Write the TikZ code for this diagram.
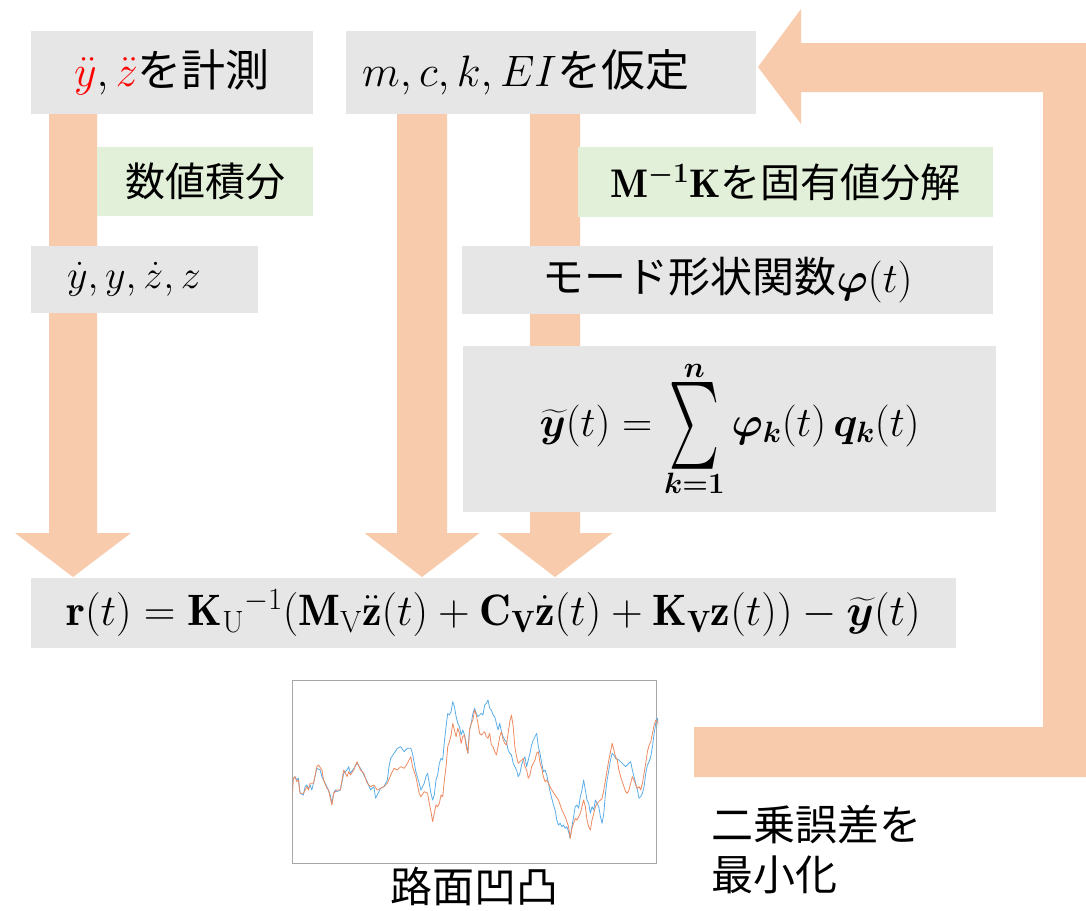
\RequirePackage{fix-cm}
\documentclass[tikz,border=0pt]{standalone}
\usepackage{amsmath,bm,graphicx}
\usepackage{fontspec}
\newfontfamily\jp{Noto Sans CJK JP}
\definecolor{arrowc}{HTML}{F8CBAD}
\definecolor{boxgray}{HTML}{E6E6E6}
\definecolor{boxgreen}{HTML}{E2F0D9}
\definecolor{plotblue}{HTML}{5AADE8}
\definecolor{plotorange}{HTML}{EE8A60}
\definecolor{framegray}{HTML}{A6A6A6}
\newcommand{\blockdown}[3]{% #1 shaft left, #2 shaft right, #3 half head
  \fill[arrowc] (#1,114) -- (#2,114) -- (#2,533) -- ({(#1+#2)/2+#3},533) -- ({(#1+#2)/2},577) -- ({(#1+#2)/2-#3},533) -- (#1,533) -- cycle;}
\newcommand{\tallsum}{\mathop{\vcenter{\hbox{\resizebox{50pt}{80pt}{$\textstyle\sum$}}}}}
\tikzset{
  graybox/.style={fill=boxgray, inner sep=0pt, text=black},
  greenbox/.style={fill=boxgreen, inner sep=0pt, text=black},
  big/.style={font=\jp\fontsize{44}{52}\selectfont},
  mid/.style={font=\jp\fontsize{40}{48}\selectfont},
  mida/.style={font=\jp\fontsize{42}{50}\selectfont},
  curve/.style={line width=0.8pt, line join=round},
}
\begin{document}
\begin{tikzpicture}[x=1pt,y=-1pt]
\useasboundingbox (0,0) rectangle (1086,910);
% block arrows (behind the boxes)
\blockdown{49}{97}{58}
\blockdown{397}{447}{57.5}
\blockdown{530}{580}{57.5}
\fill[arrowc] (694,727) -- (1043,727) -- (1043,92) -- (801,92) -- (801,124) -- (758,67) -- (801,9) -- (801,43) -- (1086,43) -- (1086,777) -- (694,777) -- cycle;
% boxes
\node[graybox, big, minimum width=282, minimum height=83] (meas) at (172,72.5)
  {${\color{red}\ddot{y}},{\color{red}\ddot{z}}$を計測};
\node[graybox, big, minimum height=83, text width=378, inner xsep=16, align=left, anchor=north west] (assume) at (346,31)
  {$m,c,k,EI$を仮定};
\node[greenbox, mid, minimum width=216, minimum height=69] (integ) at (205,181.5) {数値積分};
\node[graybox, mid, minimum height=67, text width=227, inner sep=0pt, align=left, anchor=north west] (vel) at (31,246)
  {\hspace*{36pt}$\dot{y},y,\dot{z},z$};
\node[greenbox, mid, minimum width=415, minimum height=70] (eig) at (785.5,182)
  {$\mathbf{M}^{\boldsymbol{-1}}\mathbf{K}$を固有値分解};
\node[graybox, mida, minimum width=531, minimum height=68] (mode) at (727.5,280)
  {モード形状関数$\boldsymbol{\varphi}(t)$};
\node[graybox, mida, minimum width=533, minimum height=166] (sum) at (729.5,429)
  {$\displaystyle \widetilde{\boldsymbol{y}}(t) = \tallsum\limits_{\boldsymbol{k=1}}^{\boldsymbol{n}} \boldsymbol{\varphi}_{\boldsymbol{k}}(t)\,\boldsymbol{q}_{\boldsymbol{k}}(t)$};
\node[graybox, font=\jp\fontsize{44}{52}\selectfont, minimum width=925, minimum height=70] (resid) at (493.5,613)
  {$\mathbf{r}(t) = \mathbf{K}_{\mathrm{U}}{}^{-1}(\mathbf{M}_{\mathrm{V}}\ddot{\mathbf{z}}(t) + \mathbf{C}_{\mathbf{V}}\dot{\mathbf{z}}(t) + \mathbf{K}_{\mathbf{V}}\mathbf{z}(t)) - \widetilde{\boldsymbol{y}}(t)$};
% plot
\node[draw=framegray, line width=1pt, minimum width=364, minimum height=183, inner sep=0pt] (plot) at (474,771.5) {};
\begin{scope}[shift={(290,680)}, x=0.3356pt, y=-0.3333pt]
\clip (8,6) rectangle (1097,546);
\draw[curve, plotblue] (5,390) -- (8,300) -- (15,290) -- (20,300) -- (25,295) -- (30,340) -- (40,345) -- (45,320) -- (50,315) -- (55,325) -- (60,315) -- (65,330) -- (70,310) -- (80,265) -- (90,270) -- (95,290) -- (100,300) -- (110,320) -- (120,345) -- (125,370) -- (130,340) -- (135,330) -- (140,335) -- (150,330) -- (160,280) -- (170,270) -- (175,260) -- (180,280) -- (190,265) -- (200,250) -- (210,265) -- (220,285) -- (230,305) -- (240,330) -- (250,320) -- (255,355) -- (260,345) -- (270,325) -- (280,320) -- (290,300) -- (295,260) -- (300,235) -- (310,220) -- (320,205) -- (330,200) -- (340,215) -- (350,205) -- (360,205) -- (365,220) -- (375,275) -- (385,310) -- (390,330) -- (400,310) -- (405,290) -- (410,280) -- (415,310) -- (420,340) -- (425,360) -- (430,345) -- (435,300) -- (440,285) -- (445,250) -- (450,235) -- (455,240) -- (460,185) -- (465,140) -- (470,100) -- (475,105) -- (480,95) -- (485,65) -- (490,80) -- (495,110) -- (500,130) -- (505,140) -- (510,165) -- (515,150) -- (520,165) -- (525,190) -- (530,220) -- (535,150) -- (540,130) -- (545,100) -- (550,85) -- (555,100) -- (560,110) -- (565,105) -- (570,100) -- (575,105) -- (580,75) -- (585,70) -- (590,60) -- (595,85) -- (600,90) -- (605,105) -- (610,110) -- (615,130) -- (620,150) -- (625,130) -- (630,155) -- (635,170) -- (640,180) -- (645,185) -- (650,210) -- (655,220) -- (660,225) -- (665,250) -- (670,260) -- (675,270) -- (680,290) -- (685,280) -- (690,255) -- (695,240) -- (700,230) -- (705,260) -- (710,240) -- (715,220) -- (720,195) -- (725,180) -- (730,170) -- (735,160) -- (740,200) -- (745,220) -- (750,250) -- (755,275) -- (760,270) -- (765,285) -- (770,310) -- (775,335) -- (780,355) -- (785,375) -- (790,390) -- (795,420) -- (800,435) -- (805,430) -- (810,440) -- (815,435) -- (820,445) -- (825,440) -- (830,455) -- (835,475) -- (840,440) -- (845,410) -- (850,380) -- (855,375) -- (860,385) -- (865,350) -- (870,330) -- (875,300) -- (880,330) -- (885,360) -- (890,370) -- (895,400) -- (900,380) -- (905,390) -- (910,360) -- (915,370) -- (920,380) -- (925,410) -- (930,430) -- (935,400) -- (940,340) -- (945,300) -- (950,270) -- (955,240) -- (960,220) -- (965,225) -- (970,235) -- (980,240) -- (990,250) -- (1000,260) -- (1010,250) -- (1015,245) -- (1020,270) -- (1025,290) -- (1030,310) -- (1035,330) -- (1040,355) -- (1045,350) -- (1050,340) -- (1055,320) -- (1060,280) -- (1065,255) -- (1070,245) -- (1075,230) -- (1080,200) -- (1085,160) -- (1090,130) -- (1095,115) -- (1100,140);
\draw[curve, plotorange] (5,385) -- (10,295) -- (15,290) -- (20,305) -- (25,300) -- (30,340) -- (40,340) -- (50,320) -- (55,330) -- (60,310) -- (70,310) -- (80,260) -- (85,255) -- (95,270) -- (100,300) -- (110,325) -- (115,330) -- (120,355) -- (125,375) -- (130,340) -- (140,330) -- (150,330) -- (155,300) -- (160,270) -- (170,290) -- (175,275) -- (180,285) -- (190,270) -- (195,255) -- (200,245) -- (210,270) -- (220,280) -- (230,310) -- (240,320) -- (250,315) -- (260,330) -- (270,325) -- (280,320) -- (290,310) -- (300,285) -- (310,265) -- (320,270) -- (330,260) -- (340,265) -- (350,250) -- (360,230) -- (365,260) -- (375,290) -- (385,340) -- (390,350) -- (400,335) -- (410,340) -- (415,370) -- (420,395) -- (425,425) -- (430,400) -- (435,375) -- (440,380) -- (445,370) -- (450,345) -- (455,350) -- (460,300) -- (465,260) -- (470,200) -- (475,185) -- (480,165) -- (485,130) -- (490,150) -- (495,170) -- (500,145) -- (505,160) -- (510,190) -- (515,170) -- (520,165) -- (525,200) -- (530,220) -- (535,150) -- (540,130) -- (545,120) -- (550,90) -- (555,105) -- (560,130) -- (565,160) -- (570,165) -- (575,160) -- (580,155) -- (585,170) -- (590,175) -- (595,160) -- (600,195) -- (605,200) -- (610,215) -- (615,225) -- (620,200) -- (625,170) -- (630,155) -- (635,180) -- (640,190) -- (645,195) -- (650,160) -- (655,125) -- (660,105) -- (665,140) -- (670,200) -- (675,230) -- (680,250) -- (685,245) -- (690,240) -- (695,235) -- (700,260) -- (705,270) -- (710,295) -- (715,285) -- (720,260) -- (725,250) -- (730,240) -- (735,220) -- (740,215) -- (745,250) -- (750,265) -- (755,290) -- (760,305) -- (765,300) -- (770,310) -- (775,320) -- (780,330) -- (790,345) -- (800,360) -- (805,375) -- (810,390) -- (815,400) -- (820,410) -- (825,425) -- (830,440) -- (835,475) -- (840,445) -- (845,430) -- (850,415) -- (855,420) -- (860,410) -- (865,400) -- (870,380) -- (875,360) -- (880,380) -- (885,420) -- (890,440) -- (895,450) -- (900,420) -- (905,400) -- (910,380) -- (915,370) -- (920,365) -- (925,360) -- (930,355) -- (935,330) -- (940,300) -- (945,270) -- (950,240) -- (955,215) -- (960,190) -- (965,210) -- (970,230) -- (975,240) -- (980,270) -- (985,290) -- (990,305) -- (995,320) -- (1000,335) -- (1005,340) -- (1010,330) -- (1015,310) -- (1020,290) -- (1025,300) -- (1030,315) -- (1035,325) -- (1040,320) -- (1045,330) -- (1050,310) -- (1055,280) -- (1060,250) -- (1065,215) -- (1070,195) -- (1075,185) -- (1080,160) -- (1085,135) -- (1090,120) -- (1095,125) -- (1100,145);
\end{scope}
\node[mida, anchor=north] (plotlabel) at (plot.south) {路面凹凸};
\node[mida, align=left, anchor=west, inner sep=0pt] (minimize) at (711,850) {二乗誤差を\\最小化};
\end{tikzpicture}
\end{document}
